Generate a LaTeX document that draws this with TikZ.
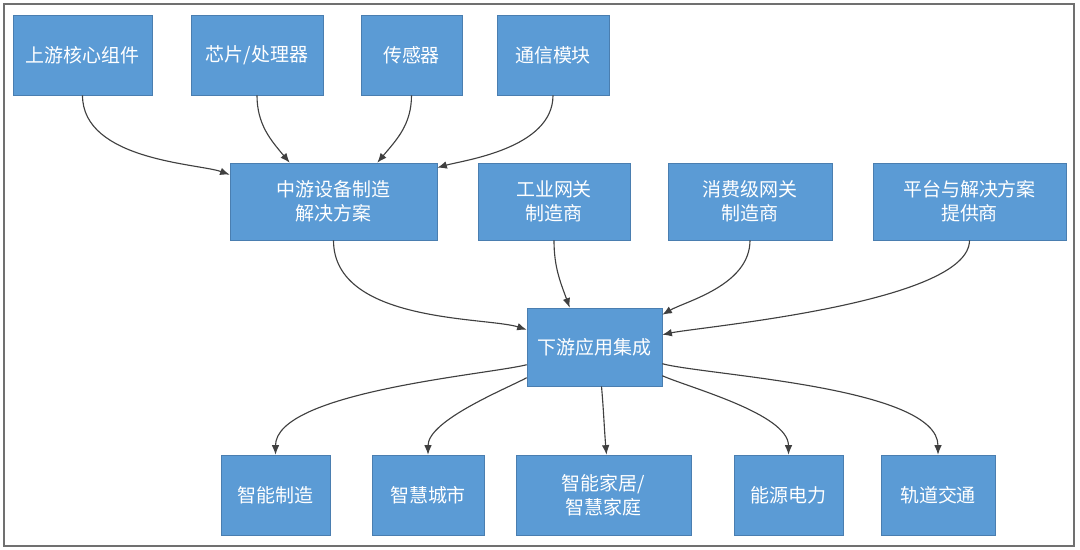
\documentclass[tikz,border=0pt]{standalone}
\usepackage{fontspec}
\setmainfont{Noto Sans CJK SC}
\usetikzlibrary{arrows.meta}
\definecolor{boxfill}{HTML}{5B9BD5}
\definecolor{boxline}{HTML}{4A7EB0}
\definecolor{linkgray}{HTML}{404040}
\definecolor{framegray}{HTML}{707070}
\begin{document}
\begin{tikzpicture}[
    x=0.025cm, y=-0.025cm,
    every node/.style={rectangle, draw=boxline, fill=boxfill, text=white, align=center,
        font=\fontsize{13.5}{17}\selectfont, inner sep=2pt},
    link/.style={draw=linkgray, line width=0.8pt, -{Latex[length=2.4mm,width=1.9mm]}},
    tall/.style={minimum height=2cm},
    mid/.style={minimum height=1.925cm}
]

% Background and frame
\fill[white] (0,0) rectangle (1080,549);
\draw[framegray, line width=1pt] (4,4) rectangle (1074,546);

% Upstream layer
\node[tall, minimum width=3.475cm] (core) at (82.5,55) {上游核心组件};
\node[tall, minimum width=3.3cm] (chip) at (257,55) {芯片/处理器};
\node[tall, minimum width=2.525cm] (sensor) at (411.5,55) {传感器};
\node[tall, minimum width=2.8cm] (comm) at (553,55) {通信模块};

% Midstream layer
\node[mid, minimum width=5.175cm] (equip) at (333.5,201.5) {中游设备制造\\解决方案};
\node[mid, minimum width=3.8cm] (igw) at (554,201.5) {工业网关\\制造商};
\node[mid, minimum width=4.1cm] (cgw) at (750,201.5) {消费级网关\\制造商};
\node[mid, minimum width=4.825cm] (plat) at (969.5,201.5) {平台与解决方案\\提供商};

% Downstream integration
\node[minimum width=3.375cm, minimum height=1.95cm] (integ) at (594.5,347) {下游应用集成};

% Application fields
\node[tall, minimum width=2.725cm] (mfg) at (275.5,495) {智能制造};
\node[tall, minimum width=2.8cm] (city) at (428,495) {智慧城市};
\node[tall, minimum width=4.375cm] (home) at (603.5,495) {智能家居/\\智慧家庭};
\node[tall, minimum width=2.725cm] (energy) at (788.5,495) {能源电力};
\node[tall, minimum width=2.85cm] (rail) at (938,495) {轨道交通};

% Upstream to midstream
\draw[link] (core.south) to[out=-90, in=160, in looseness=0.5] ([yshift=-0.3cm]equip.north west);
\draw[link] (chip.south) to[out=-90, in=130] ([xshift=1.5cm]equip.north west);
\draw[link] (sensor.south) to[out=-90, in=50] ([xshift=-1.5cm]equip.north east);
\draw[link] (comm.south) to[out=-90, in=16, in looseness=0.5] ([yshift=-0.125cm]equip.north east);

% Midstream to downstream
\draw[link] (equip.south) to[out=-90, in=162, in looseness=0.5] ([yshift=-0.55cm]integ.north west);
\draw[link] (igw.south) to[out=-90, in=110] ([xshift=1.075cm]integ.north west);
\draw[link] (cgw.south) to[out=-90, in=30, in looseness=0.6] ([yshift=-0.175cm]integ.north east);
\draw[link] (plat.south) to[out=-90, in=12, out looseness=0.5, in looseness=0.3] ([yshift=-0.675cm]integ.north east);

% Downstream to application fields
\draw[link] ([yshift=-1.425cm]integ.north west) to[out=194, in=90, out looseness=0.4, in looseness=0.6] (mfg.north);
\draw[link] ([yshift=-1.75cm]integ.north west) to[out=208, in=90, out looseness=0.5, in looseness=0.7] (city.north);
\draw[link] ([xshift=0.175cm]integ.south) to[out=-85, in=95] ([xshift=0.075cm]home.north);
\draw[link] ([yshift=-1.7cm]integ.north east) to[out=-24, in=90, out looseness=0.5, in looseness=0.7] (energy.north);
\draw[link] ([yshift=-1.4cm]integ.north east) to[out=-15, in=90, out looseness=0.4, in looseness=0.6] (rail.north);

\end{tikzpicture}
\end{document}
